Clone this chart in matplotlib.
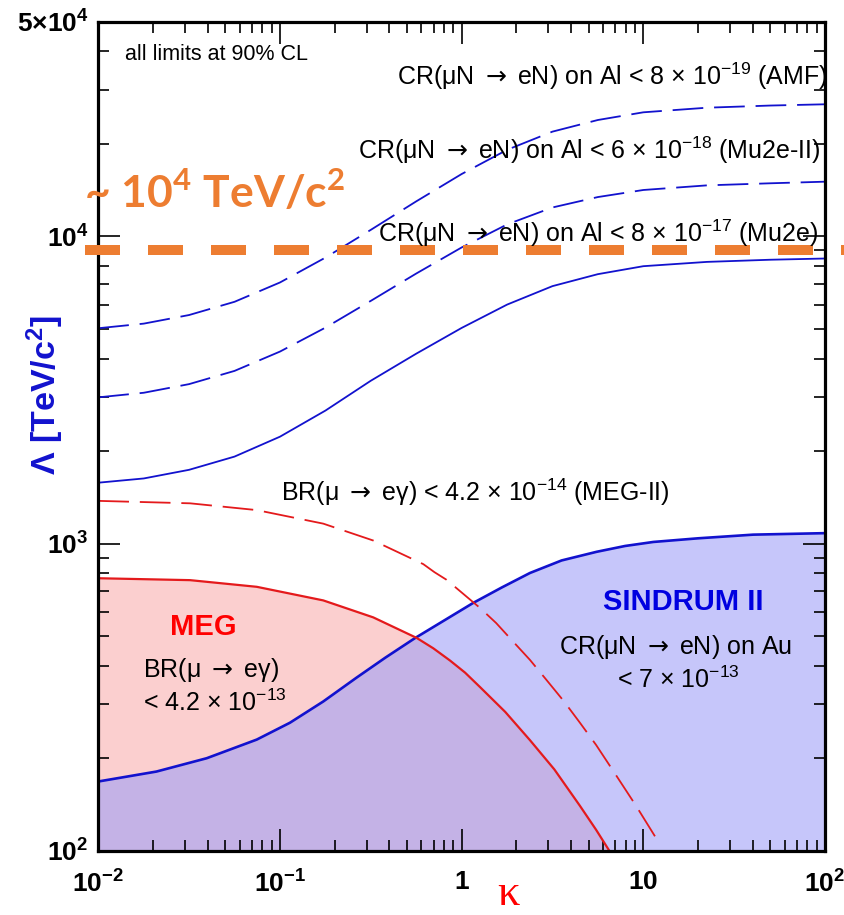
import matplotlib.pyplot as plt

plt.rcParams['font.family'] = 'Liberation Sans'
plt.rcParams['mathtext.fontset'] = 'custom'
plt.rcParams['mathtext.rm'] = 'Liberation Sans'
plt.rcParams['mathtext.it'] = 'Liberation Sans:italic'
plt.rcParams['mathtext.bf'] = 'Liberation Sans:bold'
plt.rcParams['mathtext.sf'] = 'Lato:bold'
plt.rcParams['mathtext.cal'] = 'DejaVu Sans'

# values: kappa and Lambda [TeV/c^2]
al_k = [0.01, 0.0178, 0.0316, 0.0562, 0.1, 0.178, 0.316, 0.562, 1, 1.78, 3.16, 5.62, 10, 22.4, 50.1, 100]
amf_L = [5023, 5200, 5546, 6124, 7079, 8531, 10500, 13000, 15960, 19140, 21930, 23930, 25350, 26240, 26670, 26920]
mu2e2_L = [2992, 3097, 3304, 3648, 4217, 5047, 6166, 7568, 9204, 10940, 12420, 13430, 14160, 14660, 14890, 15070]
mu2e_L = [1578, 1629, 1738, 1919, 2228, 2710, 3388, 4150, 5035, 5998, 6887, 7534, 7998, 8260, 8395, 8472]

sindrum_k = [0.01, 0.0209, 0.0395, 0.0745, 0.1135, 0.173, 0.264, 0.380, 0.553, 1.159, 1.66, 2.377,
             3.55, 5.534, 7.94, 11.35, 20.0, 40.27, 100]
sindrum_L = [168, 181, 200, 230, 261, 306, 366, 425, 492, 641, 719, 802,
             881, 940, 982, 1012, 1040, 1069, 1081]

meg_k = [0.01, 0.032, 0.0745, 0.173, 0.326, 0.565, 0.698, 0.863, 1.044, 1.262, 1.738, 2.377,
         3.236, 4.477, 5.495, 6.637]
meg_L = [771, 760, 723, 653, 575, 493, 456, 416, 380, 341, 283, 229,
         184, 140, 117, 98]

meg2_k = [0.01, 0.032, 0.0745, 0.173, 0.326, 0.615, 0.708, 0.826, 1.262, 1.549, 1.923, 2.377,
          2.938, 3.631, 4.477, 5.495, 6.823, 9.12, 12.33]
meg2_L = [1377, 1352, 1285, 1161, 1023, 857, 807, 762, 617, 551, 479, 418,
          359, 308, 261, 221, 182, 140, 105]

target = 9000  # the orange ~10^4 TeV/c^2 line

x_ticks = [0.01, 0.1, 1, 10, 100]
x_labels = [r'$\mathbf{10^{-2}}$', r'$\mathbf{10^{-1}}$', r'$\mathbf{1}$', r'$\mathbf{10}$', r'$\mathbf{10^{2}}$']
y_ticks = [100, 1000, 10000, 50000]
y_labels = [r'$\mathbf{10^{2}}$', r'$\mathbf{10^{3}}$', r'$\mathbf{10^{4}}$', r'$\mathbf{5{\times}10^{4}}$']

BLUE = '#1212CE'
RED = '#E41A1C'
ORANGE = '#ED7D31'
PINK = '#FBCFCF'
LAV = '#C6C6FA'
PURPLE = '#C4B2E6'

W, H = 845, 915
ARROW = r' $\mathcal{\rightarrow}$ '


def fx(px):
    return px / W


def fy(py):
    return 1 - py / H


fig = plt.figure(figsize=(8.45, 9.15), dpi=100)
ax = fig.add_axes([fx(98.3), fy(850.7), (825 - 98.3) / W, (850.7 - 21.7) / H])
ax.set_xscale('log')
ax.set_yscale('log')
ax.set_xlim(0.01, 100)
ax.set_ylim(100, 50000)

# shaded excluded regions
ax.fill_between(meg_k, 100, meg_L, color=PINK, lw=0, zorder=1)
sind_fill = ax.fill_between(sindrum_k, 100, sindrum_L, color=LAV, lw=0, zorder=1.1)
overlap = ax.fill_between(meg_k, 100, meg_L, color=PURPLE, lw=0, zorder=1.2)
overlap.set_clip_path(sind_fill.get_paths()[0], ax.transData)

# limit curves
ax.plot(al_k, amf_L, color=BLUE, lw=1.3, dashes=(17, 6), zorder=3)
ax.plot(al_k, mu2e2_L, color=BLUE, lw=1.3, dashes=(17, 6), zorder=3)
ax.plot(al_k, mu2e_L, color=BLUE, lw=1.3, zorder=3)
ax.plot(sindrum_k, sindrum_L, color=BLUE, lw=1.9, zorder=3)
ax.plot(meg_k, meg_L, color=RED, lw=1.6, zorder=3)
ax.plot(meg2_k, meg2_L, color=RED, lw=1.3, dashes=(17, 6), zorder=3)

# orange target line, reaching past the frame
ax.plot([-0.018, 1.03], [target, target], color=ORANGE, lw=7.2, dashes=(3.5, 2.8),
        transform=ax.get_yaxis_transform(), clip_on=False, zorder=5)

# axes styling
ax.set_xticks(x_ticks)
ax.set_xticklabels(x_labels)
ax.set_yticks(y_ticks)
ax.set_yticklabels(y_labels)
ax.yaxis.set_minor_formatter(plt.NullFormatter())
ax.xaxis.set_minor_formatter(plt.NullFormatter())
ax.tick_params(which='both', direction='in', top=True, right=True, width=1.2)
ax.tick_params(which='major', length=16, labelsize=19)
ax.tick_params(which='minor', length=8)
ax.tick_params(axis='x', which='major', pad=14)
ax.tick_params(axis='y', which='major', pad=7)
for s in ax.spines.values():
    s.set_linewidth(2.3)
    s.set_zorder(4)

# axis titles
fig.text(fx(45), fy(395), r'Λ [TeV/c$^{\mathbf{2}}$]', rotation=90, color=BLUE,
         fontsize=24.5, fontweight='bold', ha='center', va='center')
fig.text(fx(508), fy(914), 'κ', color='red', fontsize=32, family='Liberation Serif',
         ha='center', va='bottom')

# annotations
fs = 18
fig.text(fx(125), fy(55), 'all limits at 90% CL', fontsize=15.5, va='center')
fig.text(fx(397), fy(76), 'CR(μN' + ARROW + 'eN) on Al < 8 × 10$^{-19}$ (AMF)', fontsize=fs, va='center', zorder=6)
fig.text(fx(358), fy(150), 'CR(μN' + ARROW + 'eN) on Al < 6 × 10$^{-18}$ (Mu2e-II)', fontsize=fs, va='center', zorder=6)
fig.text(fx(378), fy(233), 'CR(μN' + ARROW + 'eN) on Al < 8 × 10$^{-17}$ (Mu2e)', fontsize=fs, va='center', zorder=6)
fig.text(fx(281), fy(492), 'BR(μ' + ARROW + 'eγ) < 4.2 × 10$^{-14}$ (MEG-II)', fontsize=fs, va='center')
fig.text(fx(203), fy(627), 'MEG', color='red', fontsize=21, fontweight='bold', ha='center', va='center')
fig.text(fx(143), fy(670), 'BR(μ' + ARROW + 'eγ)', fontsize=fs, va='center')
fig.text(fx(143), fy(703), '< 4.2 × 10$^{-13}$', fontsize=fs, va='center')
fig.text(fx(683), fy(602), 'SINDRUM II', color='#0000E0', fontsize=21, fontweight='bold', ha='center', va='center')
fig.text(fx(676), fy(647), 'CR(μN' + ARROW + 'eN) on Au', fontsize=fs, ha='center', va='center')
fig.text(fx(678), fy(680), '< 7 × 10$^{-13}$', fontsize=fs, ha='center', va='center')
fig.text(fx(84), fy(208), r'~ 10$^{\mathsf{4}}$ TeV/c$^{\mathsf{2}}$', color=ORANGE, fontsize=32,
         family='Lato', fontweight='bold', va='baseline', zorder=6)

fig.savefig('out.png', dpi=100)
